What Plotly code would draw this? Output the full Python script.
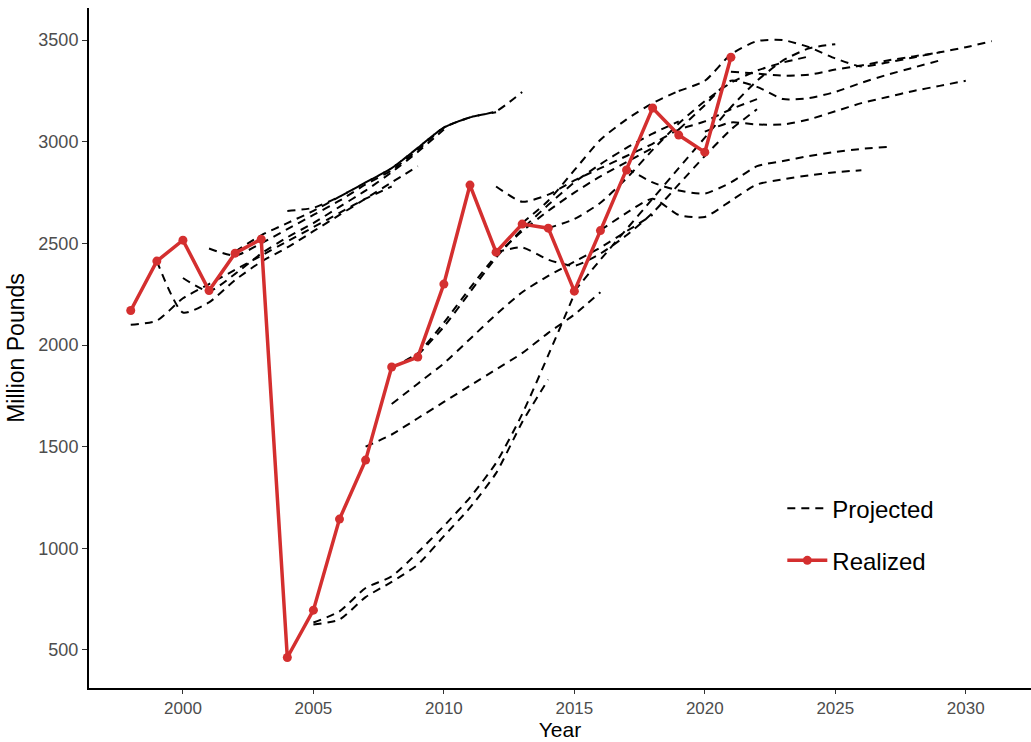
import plotly.graph_objects as go

# Realized annual volumes (million pounds)
realized_years = list(range(1998, 2022))
realized_values = [2170, 2413, 2516, 2268, 2452, 2521, 463, 696, 1144, 1434, 1892, 1941,
                   2300, 2787, 2457, 2595, 2575, 2265, 2563, 2861, 3166, 3033, 2949, 3416]

# Projection vintages: first projected year and the projected path
proj_1998_start, proj_1998 = 1998, [2100, 2120, 2230, 2300, 2370, 2440, 2510, 2580, 2650, 2720, 2780]
proj_1999_start, proj_1999 = 1999, [2413, 2160, 2210, 2320, 2410, 2480, 2560, 2640, 2720, 2800, 2880]
proj_2000_start, proj_2000 = 2000, [2330, 2265, 2350, 2450, 2530, 2600, 2680, 2760, 2850, 2950, 3060]
proj_2001_start, proj_2001 = 2001, [2475, 2440, 2500, 2570, 2640, 2710, 2790, 2860, 2960, 3070, 3120]
proj_2002_start, proj_2002 = 2002, [2460, 2540, 2600, 2660, 2730, 2800, 2870, 2970, 3070, 3120, 3145]
proj_2004_start, proj_2004 = 2004, [2660, 2675, 2730, 2800, 2870, 2970, 3070, 3120, 3150, 3245]
proj_2005a_start, proj_2005a = 2005, [625, 650, 760, 835, 920, 1060, 1200, 1370, 1620, 1830]
proj_2005b_start, proj_2005b = 2005, [635, 690, 805, 862, 980, 1110, 1250, 1420, 1660, 1950, 2250]
proj_2007_start, proj_2007 = 2007, [1500, 1560, 1640, 1720, 1800, 1880, 1960, 2060, 2150, 2260]
proj_2008a_start, proj_2008a = 2008, [1710, 1810, 1910, 2030, 2150, 2260, 2340, 2410, 2480, 2560, 2640]
proj_2008b_start, proj_2008b = 2008, [1890, 1960, 2110, 2280, 2440, 2560, 2660, 2750, 2830, 2900, 2970]
proj_2009_start, proj_2009 = 2009, [1950, 2090, 2260, 2430, 2570, 2690, 2800, 2890, 2970, 3040, 3100]
proj_2012a_start, proj_2012a = 2012, [2780, 2705, 2740, 2810, 2870, 2930, 2990, 3060, 3100, 3160, 3210]
proj_2012b_start, proj_2012b = 2012, [2457, 2480, 2420, 2390, 2450, 2540, 2650, 2790, 2930, 3060, 3160]
proj_2013_start, proj_2013 = 2013, [2600, 2710, 2860, 3010, 3110, 3190, 3250]
proj_2014_start, proj_2014 = 2014, [2575, 2620, 2700, 2820, 2960, 3090, 3200, 3290, 3350, 3390, 3420]
proj_2015_start, proj_2015 = 2015, [2265, 2420, 2570, 2720, 2870, 3020, 3170, 3300, 3400, 3460, 3480]
proj_2016_start, proj_2016 = 2016, [2565, 2650, 2720, 2640, 2630, 2710, 2790, 2815, 2835, 2850, 2860]
proj_2017_start, proj_2017 = 2017, [2870, 2800, 2760, 2745, 2800, 2880, 2905, 2930, 2950, 2965, 2975]
proj_2019a_start, proj_2019a = 2019, [3250, 3300, 3430, 3495, 3500, 3465, 3410, 3370, 3390, 3415, 3440, 3465, 3495]
proj_2019b_start, proj_2019b = 2019, [3060, 3180, 3300, 3270, 3210, 3215, 3245, 3290, 3330, 3365, 3400]
proj_2020_start, proj_2020 = 2020, [3050, 3095, 3085, 3085, 3110, 3150, 3190, 3220, 3250, 3275, 3300]
proj_2021_start, proj_2021 = 2021, [3345, 3335, 3325, 3330, 3355, 3375, 3400, 3420, 3440]

projections = [
    (proj_1998_start, proj_1998), (proj_1999_start, proj_1999), (proj_2000_start, proj_2000),
    (proj_2001_start, proj_2001), (proj_2002_start, proj_2002), (proj_2004_start, proj_2004),
    (proj_2005a_start, proj_2005a), (proj_2005b_start, proj_2005b), (proj_2007_start, proj_2007),
    (proj_2008a_start, proj_2008a), (proj_2008b_start, proj_2008b), (proj_2009_start, proj_2009),
    (proj_2012a_start, proj_2012a), (proj_2012b_start, proj_2012b), (proj_2013_start, proj_2013),
    (proj_2014_start, proj_2014), (proj_2015_start, proj_2015), (proj_2016_start, proj_2016),
    (proj_2017_start, proj_2017), (proj_2019a_start, proj_2019a), (proj_2019b_start, proj_2019b),
    (proj_2020_start, proj_2020), (proj_2021_start, proj_2021),
]

x_ticks = [2000, 2005, 2010, 2015, 2020, 2025, 2030]
y_ticks = [500, 1000, 1500, 2000, 2500, 3000, 3500]

RED = "#D42F2F"
FONT = "Liberation Sans, Arial, sans-serif"

fig = go.Figure()

for i, (start, vals) in enumerate(projections):
    fig.add_trace(go.Scatter(
        x=list(range(start, start + len(vals))), y=vals,
        mode="lines", line=dict(color="black", width=2, dash="8px,6px", shape="spline", smoothing=0.6),
        name="Projected", legendgroup="proj", showlegend=(i == 0), hoverinfo="skip",
    ))

fig.add_trace(go.Scatter(
    x=realized_years, y=realized_values, mode="lines+markers",
    line=dict(color=RED, width=3.5), marker=dict(color=RED, size=9),
    name="Realized", legendgroup="real",
))

fig.update_layout(
    width=1031, height=742,
    margin=dict(l=89, r=0, t=8, b=54),
    paper_bgcolor="white", plot_bgcolor="white",
    font=dict(family=FONT, color="black"),
    showlegend=True,
    legend=dict(x=0.736, y=0.297, xanchor="left", yanchor="top",
                font=dict(size=24, family=FONT, color="black"),
                bgcolor="rgba(0,0,0,0)", tracegroupgap=18, itemwidth=40),
    xaxis=dict(range=[1996.4, 2032.5], tickvals=x_ticks, ticks="outside", ticklen=4,
               tickcolor="#333333", tickwidth=1.2, showgrid=False, zeroline=False,
               showline=True, linecolor="black", linewidth=2,
               tickfont=dict(size=17, color="#4D4D4D"),
               title=dict(text="Year", font=dict(size=21, color="black"), standoff=3)),
    yaxis=dict(range=[313, 3658], tickvals=y_ticks, ticks="outside", ticklen=5,
               tickcolor="#333333", tickwidth=1.2, showgrid=False, zeroline=False,
               showline=True, linecolor="black", linewidth=2,
               tickfont=dict(size=18, color="#4D4D4D"),
               title=dict(text="Million Pounds", font=dict(size=23, color="black"), standoff=7)),
)

fig.write_html("out.html")
